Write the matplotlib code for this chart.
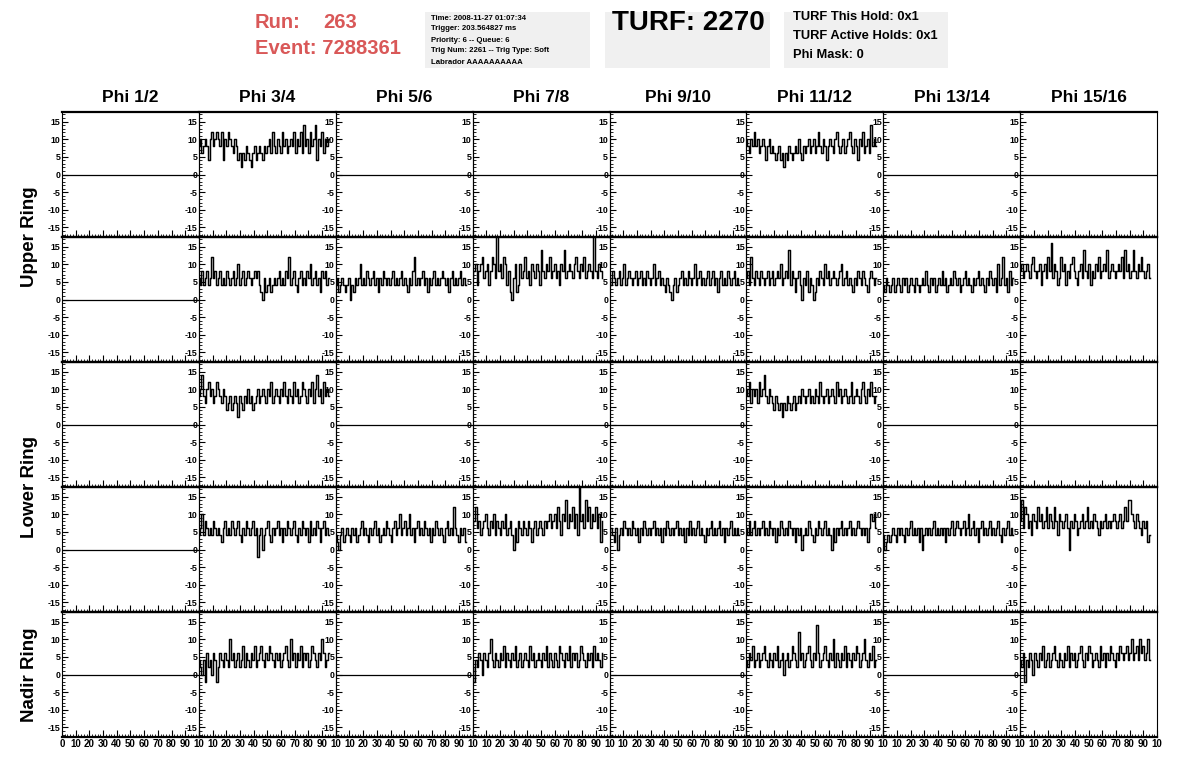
import numpy as np
import matplotlib
matplotlib.use('Agg')
import matplotlib.pyplot as plt
from matplotlib.ticker import MultipleLocator
from matplotlib.patches import Rectangle

plt.rcParams['font.family'] = ['Liberation Sans', 'DejaVu Sans']
plt.rcParams['font.weight'] = 'bold'

# header info
run_number = '263'
event_number = '7288361'
trig_lines = ['Time: 2008-11-27 01:07:34',
              'Trigger: 203.564827 ms',
              'Priority: 6 -- Queue: 6',
              'Trig Num: 2261 -- Trig Type: Soft',
              'Labrador AAAAAAAAAA']
turf_text = 'TURF: 2270'
hold_lines = ['TURF This Hold: 0x1', 'TURF Active Holds: 0x1', 'Phi Mask: 0']

phi_labels = ['Phi 1/2', 'Phi 3/4', 'Phi 5/6', 'Phi 7/8',
              'Phi 9/10', 'Phi 11/12', 'Phi 13/14', 'Phi 15/16']
ring_labels = ['Upper Ring', 'Lower Ring', 'Nadir Ring']

yticks = [-15, -10, -5, 0, 5, 10, 15]
xticks = [0, 10, 20, 30, 40, 50, 60, 70, 80, 90, 100]
xtick_labels = ['0', '10', '20', '30', '40', '50', '60', '70', '80', '90', '10']

# empty channels
flat_x = [0, 100]
flat_y = [0, 0]
sample_dx = 1.2

# traces
up0_p34 = [8, 10, 6, 8, 10, 8, 4, 10, 12, 8, 10, 12, 10, 8, 12, 4, 10, 8, 12, 10,
           8, 6, 10, 8, 4, 6, 2, 6, 4, 8, 6, 4, 2, 6, 8, 4, 6, 8, 6, 4,
           8, 6, 8, 10, 6, 12, 8, 6, 10, 8, 6, 12, 8, 10, 6, 8, 10, 8, 12, 6,
           10, 8, 12, 6, 14, 8, 10, 6, 12, 8, 10, 14, 4, 10, 8, 12, 6, 10, 8, 10]
up0_p1112 = [10, 8, 6, 10, 8, 12, 8, 10, 6, 8, 10, 8, 4, 8, 10, 6, 8, 6, 4, 6,
             8, 4, 6, 2, 6, 4, 8, 6, 4, 6, 8, 6, 10, 6, 4, 8, 6, 8, 10, 6,
             8, 10, 6, 8, 12, 8, 6, 10, 8, 4, 8, 10, 8, 6, 10, 12, 8, 6, 8, 10,
             6, 8, 10, 12, 8, 6, 10, 8, 4, 10, 8, 12, 6, 8, 10, 6, 14, 8, 10, 8]

up1_p34 = [6, 4, 8, 4, 6, 8, 4, 6, 12, 6, 8, 4, 6, 8, 4, 6, 4, 8, 6, 4,
           6, 8, 4, 6, 10, 4, 6, 8, 4, 6, 8, 6, 4, 6, 8, 6, 8, 4, 2, 0,
           6, 2, 4, 6, 2, 4, 6, 4, 6, 8, 4, 6, 4, 8, 6, 12, 4, 6, 8, 4,
           2, 6, 8, 4, 6, 4, 8, 6, 10, 4, 6, 8, 4, 6, 2, 8, 6, 8, 4, 6]
up1_p56 = [4, 6, 2, 4, 6, 4, 2, 4, 6, 0, 4, 2, 6, 4, 6, 10, 4, 6, 4, 8,
           6, 4, 6, 8, 4, 6, 2, 6, 4, 8, 6, 4, 6, 4, 6, 8, 4, 6, 4, 6,
           8, 4, 6, 4, 2, 6, 4, 8, 12, 4, 6, 4, 6, 8, 4, 6, 2, 6, 4, 6,
           8, 4, 6, 4, 6, 8, 6, 4, 6, 2, 6, 8, 4, 6, 4, 6, 8, 4, 6, 4]
up1_p78 = [6, 8, 10, 4, 8, 10, 12, 6, 8, 10, 4, 8, 12, 10, 6, 18, 8, 10, 6, 12,
           10, 4, 8, 2, 0, 6, 10, 2, 4, 10, 6, 8, 12, 6, 8, 4, 10, 8, 6, 10,
           8, 4, 14, 8, 6, 10, 8, 12, 6, 8, 10, 6, 8, 4, 10, 8, 14, 6, 8, 10,
           8, 6, 10, 12, 8, 6, 10, 8, 12, 6, 8, 10, 8, 6, 18, 8, 6, 10, 8, 6]
up1_p910 = [6, 4, 8, 6, 4, 6, 8, 4, 6, 10, 4, 6, 8, 6, 4, 6, 8, 4, 6, 8,
            4, 6, 4, 8, 6, 4, 6, 10, 4, 6, 8, 4, 6, 4, 2, 6, 4, 2, 0, 4,
            6, 2, 4, 6, 8, 4, 6, 4, 8, 6, 4, 6, 10, 4, 6, 8, 4, 6, 4, 6,
            8, 4, 6, 8, 4, 6, 2, 6, 8, 4, 6, 4, 8, 6, 4, 6, 8, 4, 6, 4]
up1_p1112 = [6, 8, 4, 12, 6, 4, 8, 6, 4, 8, 6, 4, 6, 8, 4, 6, 8, 4, 6, 8,
             6, 10, 4, 6, 8, 6, 14, 4, 8, 6, 2, 6, 8, 4, 0, 6, 4, 8, 2, 6,
             4, 0, 2, 6, 4, 8, 6, 4, 10, 6, 8, 4, 6, 8, 6, 4, 6, 8, 10, 4,
             6, 8, 4, 6, 4, 2, 6, 4, 8, 6, 4, 8, 6, 4, 2, 6, 8, 6, 4, 6]
up1_p1314 = [4, 2, 6, 4, 2, 4, 6, 2, 4, 6, 4, 2, 6, 4, 6, 2, 4, 6, 4, 2,
             6, 4, 2, 4, 6, 4, 8, 4, 2, 6, 4, 6, 2, 4, 6, 4, 8, 4, 6, 2,
             4, 6, 4, 8, 6, 4, 6, 2, 4, 6, 8, 4, 6, 4, 2, 6, 4, 6, 8, 4,
             6, 4, 2, 6, 4, 8, 6, 4, 6, 2, 10, 4, 6, 12, 4, 6, 2, 8, 4, 6]
up1_p1516 = [8, 10, 6, 8, 10, 8, 6, 10, 12, 8, 6, 8, 10, 4, 8, 10, 6, 12, 8, 16,
             6, 10, 8, 4, 6, 12, 8, 10, 4, 8, 6, 10, 12, 8, 6, 4, 8, 10, 6, 14,
             8, 6, 10, 4, 8, 6, 10, 8, 12, 6, 8, 10, 8, 14, 6, 8, 10, 8, 6, 8,
             10, 8, 12, 6, 14, 8, 10, 6, 8, 14, 8, 6, 10, 8, 12, 8, 6, 8, 10, 6]

lo0_p34 = [8, 10, 14, 8, 6, 10, 12, 8, 10, 6, 8, 12, 10, 8, 6, 10, 8, 4, 6, 8,
           4, 6, 8, 6, 2, 8, 6, 4, 8, 6, 10, 6, 8, 4, 6, 8, 10, 6, 8, 10,
           8, 6, 10, 8, 12, 6, 8, 10, 8, 6, 10, 8, 12, 8, 6, 10, 8, 6, 12, 8,
           10, 6, 8, 12, 10, 8, 6, 10, 8, 12, 6, 10, 14, 8, 10, 6, 12, 8, 10, 8]
lo0_p1112 = [10, 8, 12, 6, 10, 8, 10, 6, 12, 8, 10, 14, 8, 6, 10, 8, 6, 4, 8, 6,
             4, 6, 2, 6, 4, 8, 6, 4, 6, 8, 4, 6, 8, 6, 10, 8, 6, 8, 10, 6,
             8, 6, 10, 8, 6, 12, 8, 6, 8, 10, 6, 8, 10, 8, 6, 12, 8, 10, 6, 8,
             10, 8, 6, 8, 12, 6, 8, 10, 8, 6, 10, 12, 8, 6, 10, 8, 12, 8, 6, 8]

lo1_p34 = [4, 6, 10, 4, 8, 6, 4, 6, 4, 8, 6, 4, 6, 4, 2, 6, 8, 4, 6, 4,
           8, 6, 4, 6, 8, 4, 2, 6, 4, 8, 6, 4, 6, 8, 4, 6, -2, 4, 6, 0,
           4, 6, 8, 4, 2, 6, 4, 6, 8, 4, 6, 2, 6, 4, 8, 6, 4, 6, 8, 4,
           2, 6, 4, 8, 6, 4, 6, 2, 8, 4, 6, 4, 8, 6, 2, 6, 8, 4, 6, 4]
lo1_p56 = [4, 2, 0, 4, 6, 2, 4, 6, 4, 2, 6, 4, 6, 2, 4, 6, 8, 4, 6, 4,
           2, 6, 4, 6, 8, 4, 6, 2, 4, 6, 4, 8, 6, 4, 2, 6, 8, 4, 6, 10,
           4, 6, 8, 4, 6, 10, 4, 6, 2, 6, 8, 4, 6, 4, 8, 6, 4, 6, 2, 6,
           4, 8, 6, 4, 6, 4, 2, 6, 8, 4, 6, 4, 12, 6, 4, 2, 6, 4, 6, 2]
lo1_p78 = [6, 8, 12, 6, 8, 4, 6, 8, 10, 6, 4, 8, 6, 10, 4, 8, 6, 4, 8, 6,
           10, 4, 6, 8, 4, 0, 6, 2, 8, 6, 4, 8, 6, 4, 8, 6, 2, 6, 8, 4,
           6, 8, 6, 4, 8, 6, 8, 10, 6, 8, 10, 6, 12, 8, 4, 10, 8, 14, 6, 10,
           8, 12, 6, 10, 4, 18, 8, 10, 6, 14, 8, 12, 6, 10, 8, 12, 6, 10, 2, 8]
lo1_p910 = [4, 6, 4, 2, 6, 0, 4, 6, 4, 8, 6, 4, 6, 4, 8, 6, 4, 6, 2, 6,
            4, 8, 6, 4, 6, 4, 6, 8, 4, 6, 4, 6, 2, 6, 4, 8, 6, 4, 6, 4,
            6, 8, 4, 6, 4, 6, 2, 6, 4, 8, 4, 6, 4, 6, 8, 4, 6, 4, 2, 6,
            4, 6, 8, 4, 6, 4, 6, 8, 4, 6, 2, 6, 4, 6, 8, 4, 6, 4, 6, 4]
lo1_p1112 = [6, 4, 8, 4, 6, 8, 4, 6, 4, 6, 8, 4, 6, 4, 8, 6, 4, 6, 2, 6,
             4, 8, 6, 4, 6, 4, 8, 6, 4, 6, 2, 6, 4, 6, 0, 4, 6, 4, 8, 6,
             4, 2, 6, 4, 8, 6, 4, 6, 8, 4, 6, 4, 0, 6, 2, 6, 4, 6, 8, 4,
             6, 4, 6, 8, 4, 6, 4, 6, 8, 6, 4, 6, 4, 6, 2, 6, 10, 8, 10, 6]
lo1_p1314 = [4, 0, 2, 4, 2, 4, 6, 4, 2, 6, 4, 6, 4, 2, 6, 4, 6, 8, 4, 6,
             4, 6, 2, 6, 0, 4, 6, 4, 6, 4, 6, 8, 4, 6, 4, 6, 4, 6, 2, 6,
             4, 6, 8, 4, 6, 8, 6, 4, 6, 8, 4, 6, 10, 4, 6, 8, 4, 6, 2, 6,
             8, 4, 6, 4, 6, 8, 4, 6, 4, 6, 8, 4, 2, 6, 4, 6, 8, 4, 6, 4]
lo1_p1516 = [8, 14, 6, 12, 10, 6, 8, 4, 10, 8, 6, 12, 8, 10, 6, 8, 12, 6, 10, 8,
             6, 12, 8, 4, 10, 8, 6, 8, 10, 6, 0, 8, 6, 10, 8, 4, 6, 8, 10, 6,
             8, 12, 6, 8, 6, 10, 8, 6, 4, 8, 6, 8, 10, 6, 8, 6, 8, 10, 8, 6,
             8, 10, 6, 8, 12, 8, 14, 14, 10, 8, 6, 10, 8, 6, 4, 8, 6, 8, 2, 4]

na_p34 = [4, 2, 0, 4, -2, 6, 2, 4, 0, 6, 4, -2, 2, 6, 4, 2, 6, 4, 2, 10,
          4, 6, 2, 4, 6, 2, 4, 8, 2, 6, 4, 2, 6, 4, 8, 2, 4, 6, 8, 4,
          2, 6, 4, 8, 6, 4, 2, 6, 4, 6, 2, 4, 6, 8, 4, 2, 10, 4, 6, 2,
          6, 4, 8, 2, 6, 4, 6, 2, 4, 8, 6, 4, 2, 6, 4, 10, 6, 2, 4, 6]
na_p78 = [2, -2, 4, 2, 6, 4, 0, 6, 4, 2, 6, 10, 4, 2, 6, 4, 2, 6, 4, 8,
          2, 6, 4, 2, 6, 4, 8, 2, 4, 6, 2, 4, 6, 4, 2, 8, 4, 6, 2, 4,
          6, 4, 2, 6, 4, 8, 2, 6, 4, 2, 6, 4, 2, 8, 6, 4, 2, 6, 4, 8,
          2, 6, 4, 6, 2, 4, 8, 6, 4, 2, 6, 4, 6, 2, 8, 4, 6, 4, 2, 6]
na_p1112 = [4, 2, 6, 4, 8, 2, 4, 6, 2, 4, 6, 8, 4, 2, 6, 4, 2, 6, 4, 8,
            2, 4, 6, 0, 4, 6, 2, 4, 8, 6, 4, 2, 12, 4, 6, 2, 4, 6, 8, 4,
            2, 6, 4, 14, 6, 2, 4, 6, 8, 4, 2, 6, 4, 10, 2, 6, 4, 2, 6, 4,
            8, 2, 6, 4, 2, 6, 4, 8, 6, 2, 4, 6, 10, 4, 2, 6, 4, 8, 2, 4]
na_p1516 = [4, 2, 6, -2, 4, 2, 6, 4, 0, 6, 4, 2, 6, 4, 8, 2, 4, 6, 2, 4,
            6, 8, 4, 2, 6, 4, 2, 6, 4, 8, 2, 6, 4, 6, 2, 4, 6, 8, 4, 2,
            6, 4, 8, 6, 2, 4, 6, 4, 2, 8, 4, 6, 2, 6, 4, 8, 6, 4, 2, 6,
            4, 8, 6, 4, 6, 8, 4, 6, 10, 4, 6, 8, 4, 10, 6, 8, 4, 6, 10, 4]

# (row, col) -> trace, everything else is an empty channel
traces = {
    (0, 1): up0_p34, (0, 5): up0_p1112,
    (1, 1): up1_p34, (1, 2): up1_p56, (1, 3): up1_p78, (1, 4): up1_p910,
    (1, 5): up1_p1112, (1, 6): up1_p1314, (1, 7): up1_p1516,
    (2, 1): lo0_p34, (2, 5): lo0_p1112,
    (3, 1): lo1_p34, (3, 2): lo1_p56, (3, 3): lo1_p78, (3, 4): lo1_p910,
    (3, 5): lo1_p1112, (3, 6): lo1_p1314, (3, 7): lo1_p1516,
    (4, 1): na_p34, (4, 3): na_p78, (4, 5): na_p1112, (4, 7): na_p1516,
}

W, H = 1196.0, 772.0
fig = plt.figure(figsize=(W / 100, H / 100), dpi=100)

def fx(px):
    return px / W

def fy(py):
    return 1 - py / H

# header
red = '#d95858'
fig.text(fx(255), fy(22), 'Run:', color=red, fontsize=14.5, fontweight='bold',
         va='center', ha='left')
fig.text(fx(323), fy(22), run_number, color=red, fontsize=14.5, fontweight='bold',
         va='center', ha='left')
fig.text(fx(255), fy(49), 'Event: ' + event_number, color=red, fontsize=14.5,
         fontweight='bold', va='center', ha='left')

for bx0, bx1 in [(425, 590), (605, 770), (784, 948)]:
    fig.patches.append(Rectangle((fx(bx0), fy(68)), fx(bx1) - fx(bx0), fy(12) - fy(68),
                                 transform=fig.transFigure, facecolor='#f0f0f0',
                                 edgecolor='none', zorder=0))

for i, line in enumerate(trig_lines):
    fig.text(fx(431), fy(18 + 11 * i), line, fontsize=5.6, fontweight='bold',
             va='center', ha='left')

fig.text(fx(612), fy(23), turf_text, fontsize=20, fontweight='bold',
         va='center', ha='left')

for i, line in enumerate(hold_lines):
    fig.text(fx(793), fy(17 + 19 * i), line, fontsize=9.3, fontweight='bold',
             va='center', ha='left')

# grid of panels
left, right, top, row_h = 62.0, 1157.0, 112.0, 125.0
col_w = (right - left) / 8

for c, name in enumerate(phi_labels):
    fig.text(fx(left + (c + 0.5) * col_w), fy(98), name, fontsize=12.5,
             fontweight='bold', ha='center', va='center')

ring_centres = [237, 487, 675]
for name, yc in zip(ring_labels, ring_centres):
    fig.text(fx(30), fy(yc), name, fontsize=13.5, fontweight='bold', rotation=90,
             ha='center', va='center')

for r in range(5):
    for c in range(8):
        x0 = left + c * col_w
        y1 = top + (r + 1) * row_h
        ax = fig.add_axes([fx(x0), fy(y1), col_w / W, row_h / H])
        ax.patch.set_alpha(0)
        if (r, c) in traces:
            vals = traces[(r, c)]
            xs = np.arange(len(vals)) * sample_dx
            ax.plot(xs, vals, color='black', lw=1.05, drawstyle='steps-mid')
        else:
            ax.plot(flat_x, flat_y, color='black', lw=0.9)
        ax.set_xlim(0, 100)
        ax.set_ylim(-17.7, 17.7)
        ax.set_yticks(yticks)
        ax.set_yticklabels([str(t) for t in yticks])
        ax.yaxis.set_minor_locator(MultipleLocator(1))
        ax.set_xticks(xticks)
        ax.xaxis.set_minor_locator(MultipleLocator(2))
        if r == 4:
            labs = list(xtick_labels)
            if c > 0:
                labs[0] = ''
            ax.set_xticklabels(labs)
        else:
            ax.set_xticklabels([])
        ax.tick_params(axis='y', which='major', direction='in', length=4, width=0.8,
                       labelsize=6.3, pad=1)
        ax.tick_params(axis='y', which='minor', direction='in', length=2, width=0.6)
        ax.tick_params(axis='x', which='major', direction='in', length=5, width=0.8,
                       labelsize=7, pad=1.5)
        ax.tick_params(axis='x', which='minor', direction='in', length=2.5, width=0.6)
        for lab in ax.get_xticklabels() + ax.get_yticklabels():
            lab.set_fontweight('bold')
        ax.spines['bottom'].set_linewidth(1.6)
        ax.spines['top'].set_linewidth(1.6)
        ax.spines['left'].set_linewidth(0.8)
        ax.spines['right'].set_linewidth(0.8)

fig.savefig('out.png', dpi=100)
